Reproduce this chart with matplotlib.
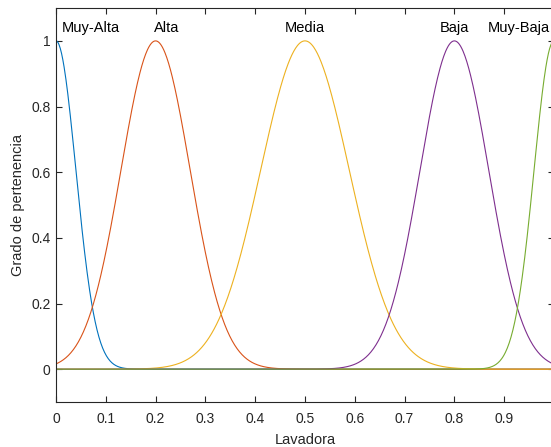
import numpy as np
import matplotlib
matplotlib.use("Agg")
import matplotlib.pyplot as plt

# Gaussian membership function parameters
names = ["Muy-Alta", "Alta", "Media", "Baja", "Muy-Baja"]
centers = [0.0, 0.2, 0.5, 0.8, 1.0]
sigmas = [0.040, 0.0695, 0.089, 0.069, 0.040]
label_x = [0.07, 0.223, 0.5, 0.80, 0.929]
colors = ["#0072BD", "#D95319", "#EDB120", "#7E2F8E", "#77AC30"]

xticks = [0, 0.1, 0.2, 0.3, 0.4, 0.5, 0.6, 0.7, 0.8, 0.9]
yticks = [0, 0.2, 0.4, 0.6, 0.8, 1]

plt.rcParams['font.family'] = ['Liberation Sans', 'DejaVu Sans']
axcol = "#262626"

fig = plt.figure(figsize=(5.51, 4.47), dpi=100)
ax = fig.add_axes([0.1016, 0.1007, 0.9038, 0.8813])

x = np.linspace(0, 1, 801)
for c, s, col in zip(centers, sigmas, colors):
    ax.plot(x, np.exp(-(x - c) ** 2 / (2 * s ** 2)), color=col, lw=0.8)

for n, lx in zip(names, label_x):
    ax.text(lx, 1.04, n, ha="center", va="center", fontsize=10.5, color="black")

ax.set_xlim(0, 1)
ax.set_ylim(-0.1, 1.1)
ax.set_xticks(xticks)
ax.set_xticklabels([f"{t:g}" for t in xticks])
ax.set_yticks(yticks)
ax.set_yticklabels([f"{t:g}" for t in yticks])
ax.tick_params(direction="in", top=True, right=True, length=4, width=0.8,
               colors=axcol, labelsize=10)
ax.tick_params(axis="x", pad=7)
ax.tick_params(axis="y", pad=4)
for sp in ax.spines.values():
    sp.set_color(axcol)
    sp.set_linewidth(0.8)
ax.set_xlabel("Lavadora", fontsize=10.5, color=axcol, labelpad=5)
ax.set_ylabel("Grado de pertenencia", fontsize=10.5, color=axcol, labelpad=4)

fig.savefig("out.png", dpi=100)
